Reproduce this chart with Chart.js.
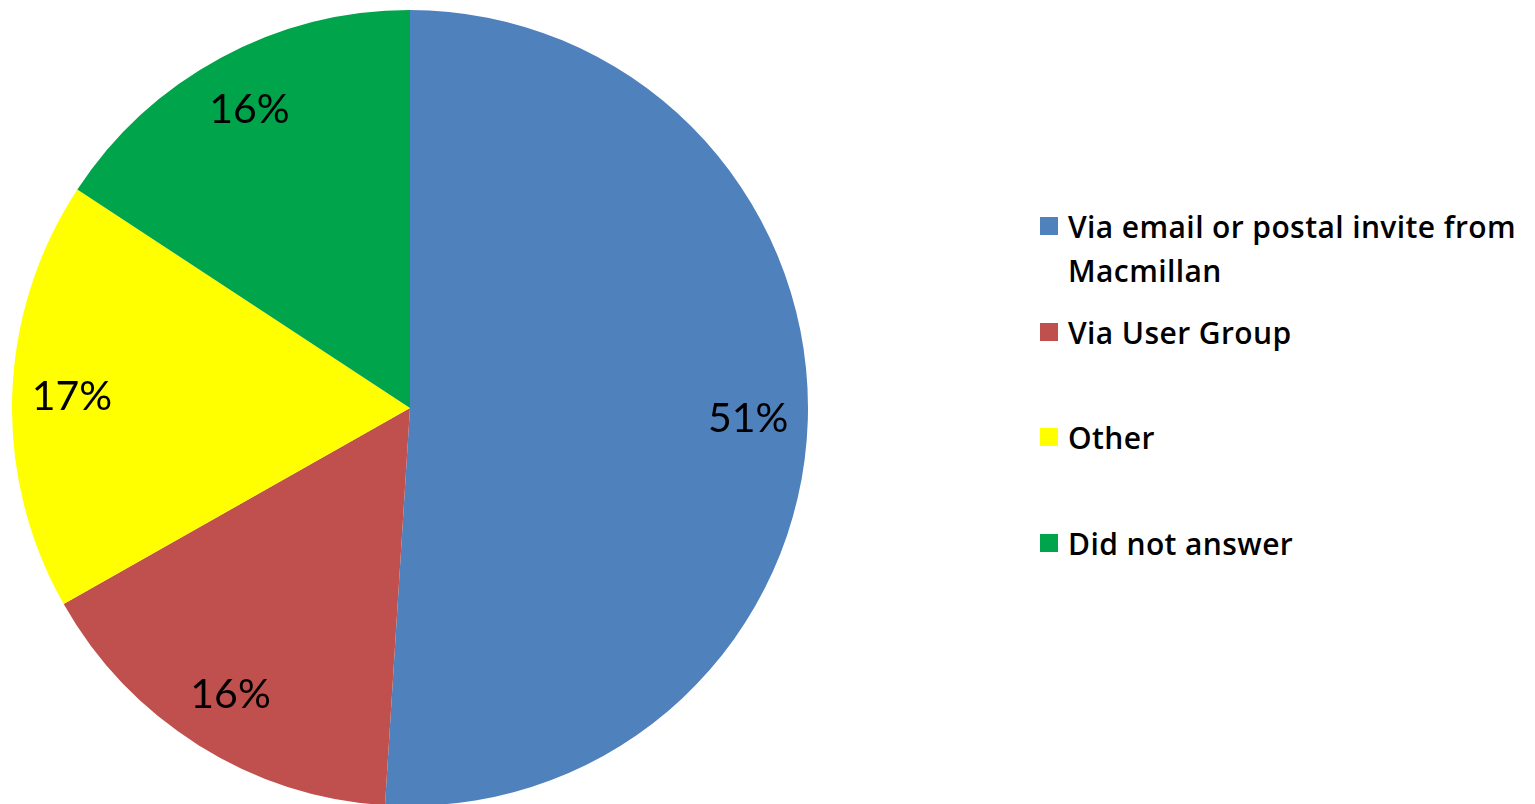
<!DOCTYPE html>
<html>
<head>
<meta charset="utf-8">
<script src="https://cdn.jsdelivr.net/npm/chart.js@4"></script>
<style>
  html, body { margin: 0; padding: 0; background: #fff; overflow: hidden; }
  body { width: 1535px; height: 804px; position: relative; }
  #pieBox { position: absolute; left: 12px; top: 10px; width: 796px; height: 796px; }
  #legend { position: absolute; left: 1040px; top: 0; width: 495px; }
  .item { position: absolute; left: 0; width: 490px; font-family: "Open Sans", "Liberation Sans", sans-serif;
          font-weight: 600; font-size: 30px; letter-spacing: 0.4px; line-height: 44px; color: #000; }
  .box { position: absolute; left: 0; top: 12px; width: 18px; height: 18px; }
  .txt { position: absolute; left: 28px; width: 470px; }
</style>
</head>
<body>
<div id="pieBox"><canvas id="pieCanvas"></canvas></div>
<div id="legend"></div>
<script>
// categories and values (percent of respondents)
var answers = ["Via email or postal invite from Macmillan", "Via User Group", "Other", "Did not answer"];
var shares = [51.0, 15.8, 17.45, 15.75];
var sliceColors = ["#4F81BD", "#C0504D", "#FFFF00", "#00A44A"];

// percent labels inside the slices
var pctLabels = {
    id: "pctLabels",
    afterDatasetsDraw: function(chart) {
        var ctx = chart.ctx;
        var meta = chart.getDatasetMeta(0);
        var data = chart.data.datasets[0].data;
        var total = data.reduce(function(a, b) { return a + b; }, 0);
        ctx.save();
        ctx.font = "41px Lato, 'Liberation Sans', sans-serif";
        ctx.fillStyle = "#000";
        ctx.textAlign = "center";
        ctx.textBaseline = "middle";
        meta.data.forEach(function(arc, i) {
            var p = arc.getProps(["x", "y", "startAngle", "endAngle", "outerRadius"], true);
            var mid = (p.startAngle + p.endAngle) / 2;
            var r = p.outerRadius * 0.85;
            ctx.fillText(Math.round(data[i] / total * 100) + "%", p.x + Math.cos(mid) * r, p.y + Math.sin(mid) * r);
        });
        ctx.restore();
    }
};

var ctx = document.getElementById("pieCanvas");
var pieChart = new Chart(ctx, {
    type: "pie",
    data: {
        labels: answers,
        datasets: [{
            data: shares,
            backgroundColor: sliceColors,
            borderWidth: 0
        }]
    },
    options: {
        responsive: true,
        maintainAspectRatio: false,
        animation: false,
        layout: { padding: 0 },
        plugins: {
            legend: { display: false },
            tooltip: { enabled: false }
        }
    },
    plugins: [pctLabels]
});

// html legend built from the chart labels
var legend = document.getElementById("legend");
answers.forEach(function(name, i) {
    var item = document.createElement("div");
    item.className = "item";
    item.style.top = (205 + 105.5 * i) + "px";
    var box = document.createElement("div");
    box.className = "box";
    box.style.background = sliceColors[i];
    var txt = document.createElement("div");
    txt.className = "txt";
    txt.textContent = name;
    item.appendChild(box);
    item.appendChild(txt);
    legend.appendChild(item);
});
</script>
</body>
</html>
